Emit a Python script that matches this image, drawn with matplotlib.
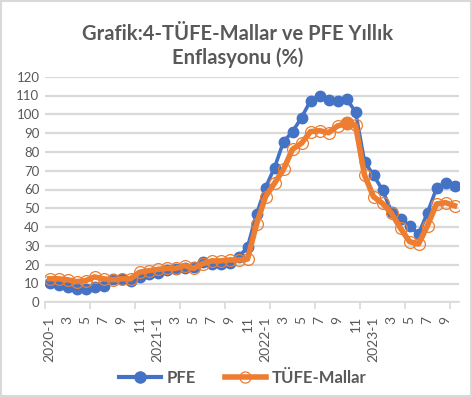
import matplotlib
matplotlib.use("Agg")
import matplotlib.pyplot as plt
from matplotlib.patches import Rectangle
from matplotlib.lines import Line2D
import numpy as np

months = [f"{y}-{m}" for y in (2020, 2021, 2022, 2023) for m in range(1, 13)][:46]

pfe = [10.2, 9.3, 8.3, 7.2, 7.0, 8.0, 8.8, 12.3, 12.3, 11.3, 13.5, 15.0,
       15.8, 17.0, 17.5, 18.3, 18.8, 21.2, 20.5, 20.6, 21.0, 24.0, 29.3, 46.8,
       61.0, 71.6, 85.4, 90.8, 98.2, 107.2, 109.7, 107.6, 106.9, 108.1, 101.4, 74.8,
       67.7, 59.7, 48.2, 44.1, 40.8, 36.2, 47.7, 60.6, 63.3, 62.0]

tufe_mallar = [12.5, 12.5, 12.0, 11.0, 11.5, 13.5, 12.5, 12.0, 12.5, 12.5, 16.0, 16.8,
               17.5, 18.0, 18.0, 19.5, 18.0, 20.5, 22.0, 22.0, 22.5, 22.5, 23.0, 41.5,
               56.2, 63.3, 70.7, 81.4, 84.6, 90.8, 91.3, 90.2, 93.8, 95.2, 94.3, 67.7,
               56.2, 52.6, 47.3, 39.4, 32.3, 31.0, 40.8, 52.3, 53.0, 51.4]

tick_labels = [m if m.endswith("-1") else m.split("-")[1] for m in months]

title = "Grafik:4-TÜFE-Mallar ve PFE Yıllık\nEnflasyonu (%)"
series_names = ["PFE", "TÜFE-Mallar"]

BLUE = "#4472C4"
ORANGE = "#ED7D31"
GRAY = "#595959"
GRID = "#D9D9D9"

plt.rcParams['font.family'] = ['Lato', 'DejaVu Sans']

fig = plt.figure(figsize=(4.72, 3.97), dpi=100)
ax = fig.add_axes([45/472, 1-302.3/397, 414/472, (302.3-76.7)/397])

x = np.arange(len(months))
ax.plot(x, pfe, color=BLUE, lw=2.6, marker="o", ms=7.5, mfc=BLUE, mec=BLUE, zorder=3)
ax.plot(x, tufe_mallar, color=ORANGE, lw=4.0, marker="o", ms=8.5, mfc="none",
        mec=ORANGE, mew=0.9, zorder=4)
imax = int(np.argmax(tufe_mallar))
ax.plot([x[imax]], [tufe_mallar[imax]], marker="o", ms=9, color=ORANGE, zorder=5)

ax.set_xlim(-0.5, len(months) - 0.5)
ax.set_ylim(0, 120)
ax.set_yticks(np.arange(0, 121, 10))
ax.yaxis.grid(True, color=GRID, lw=1.6)
ax.set_axisbelow(True)
for s in ("top", "right", "left"):
    ax.spines[s].set_visible(False)
ax.spines["bottom"].set_color(GRID)
ax.spines["bottom"].set_linewidth(1.2)
ax.tick_params(axis="y", length=0, labelsize=9.5, labelcolor=GRAY, pad=4)

lab_idx = [i for i in x if i % 2 == 0]
ax.set_xticks(lab_idx)
ax.set_xticklabels([tick_labels[i] for i in lab_idx], rotation=90)
ax.tick_params(axis="x", which="major", length=0, labelsize=10, labelcolor=GRAY, pad=10)
ax.set_xticks(np.arange(-0.5, len(months), 5), minor=True)
ax.tick_params(axis="x", which="minor", length=5, color=GRID, width=1.2)

fig.text(0.503, 1-46/397, title, ha="center", va="center", fontsize=14.5,
         fontweight="bold", color=GRAY, linespacing=1.2)

handles = [Line2D([], [], color=BLUE, lw=3, marker="o", ms=8, mfc=BLUE, mec=BLUE),
           Line2D([], [], color=ORANGE, lw=4, marker="o", ms=8, mfc="none", mec=ORANGE, mew=0.9)]
leg = fig.legend(handles, series_names, loc="center", bbox_to_anchor=(0.515, 1-378/397),
                 ncol=2, frameon=False, handlelength=2.5, columnspacing=1.7,
                 handletextpad=0.35, prop={"size": 12, "weight": "bold"})
for t in leg.get_texts():
    t.set_color(GRAY)

fig.patches.append(Rectangle((0.002, 0.003), 0.995, 0.994, transform=fig.transFigure,
                             fill=False, edgecolor=GRID, lw=1.5))

fig.savefig("out.png", dpi=100, facecolor="white")
